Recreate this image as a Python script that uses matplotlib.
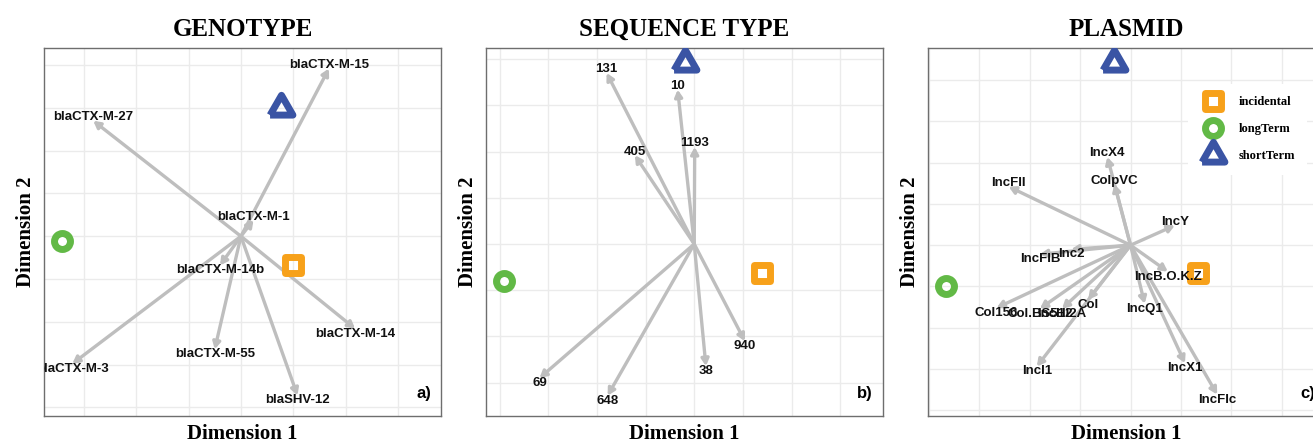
import matplotlib
matplotlib.use('Agg')
import matplotlib.pyplot as plt
from matplotlib.lines import Line2D
from matplotlib.markers import MarkerStyle
import numpy as np

# genotype arrows (biplot loadings)
geno_names = ['blaCTX-M-15', 'blaCTX-M-27', 'blaCTX-M-1', 'blaCTX-M-14b',
              'blaCTX-M-3', 'blaCTX-M-55', 'blaSHV-12', 'blaCTX-M-14']
geno_x = [0.84, -1.41, 0.12, -0.20, -1.61, -0.25, 0.54, 1.09]
geno_y = [1.96, 1.35, 0.19, -0.34, -1.49, -1.32, -1.86, -1.08]

# sequence type arrows
st_names = ['131', '10', '1193', '405', '69', '648', '38', '940']
st_x = [-0.90, -0.17, 0.005, -0.61, -1.59, -0.89, 0.12, 0.52]
st_y = [1.85, 1.67, 1.05, 0.96, -1.45, -1.64, -1.32, -1.05]

# plasmid arrows
pl_names = ['IncX4', 'ColpVC', 'IncFII', 'IncY', 'Inc2', 'IncFIB', 'IncB.O.K.Z',
            'Col156', 'Col.BS512', 'IncHI2A', 'Col', 'IncQ1', 'IncI1', 'IncX1', 'IncFIc']
pl_x = [-0.23, -0.16, -1.21, 0.44, -0.59, -0.90, 0.37,
        -1.33, -0.90, -0.68, -0.42, 0.14, -0.93, 0.54, 0.86]
pl_y = [1.07, 0.74, 0.71, 0.24, -0.05, -0.11, -0.32,
        -0.76, -0.77, -0.77, -0.66, -0.71, -1.47, -1.43, -1.81]

# group positions: incidental, longTerm, shortTerm
groups = ['incidental', 'longTerm', 'shortTerm']
geno_gx = [0.50, -1.71, 0.38]
geno_gy = [-0.33, -0.06, 1.50]
st_gx = [0.70, -1.96, -0.10]
st_gy = [-0.31, -0.40, 1.96]
pl_gx = [0.67, -1.83, -0.16]
pl_gy = [-0.34, -0.49, 2.21]

grp_colors = ['#F7A11A', '#62B946', '#3A54A4']
# equilateral triangle like ggplot's shape 2
tri = [(-1, -0.577), (1, -0.577), (0, 1.155), (-1, -0.577)]
grp_markers = ['s', 'o', tri]
grp_sizes = [11.5, 11.5, 19]

SERIF = 'Liberation Serif'
SANS = 'Liberation Sans'
ARROW_COL = '#BEBEBE'


def grp_marker(i):
    return MarkerStyle(grp_markers[i], joinstyle='round')


def draw_panel(ax, title, names, xs, ys, gx, gy, xlim, ylim, tag):
    ax.set_xlim(xlim)
    ax.set_ylim(ylim)
    # grid every 0.5
    ax.set_xticks(np.arange(np.ceil(xlim[0] * 2) / 2, xlim[1], 0.5))
    ax.set_yticks(np.arange(np.ceil(ylim[0] * 2) / 2, ylim[1], 0.5))
    ax.grid(True, color='#EBEBEB', lw=1.0)
    ax.set_axisbelow(True)
    ax.tick_params(length=0, labelbottom=False, labelleft=False)
    for sp in ax.spines.values():
        sp.set_color('#6E6E6E')
        sp.set_linewidth(1.0)

    # arrows from the origin
    for x, y in zip(xs, ys):
        ax.annotate('', xy=(x, y), xytext=(0, 0),
                    arrowprops=dict(arrowstyle='-|>,head_length=0.4,head_width=0.22',
                                    color=ARROW_COL, lw=2.4, shrinkA=0, shrinkB=0),
                    zorder=2)

    # group markers
    for i in range(len(groups)):
        ax.plot(gx[i], gy[i], ls='none', marker=grp_marker(i),
                ms=grp_sizes[i], mew=5, mec=grp_colors[i], mfc='none', zorder=3)

    # labels at arrow tips (clipped by the panel like in the original)
    for n, x, y in zip(names, xs, ys):
        off = 2.5 if y > 0 else -3.6
        t = ax.annotate(n, xy=(x, y), xytext=(0, off), textcoords='offset points',
                        ha='center', va='center', fontsize=9.5, fontweight='bold',
                        family=SANS, color='#111111', zorder=4, annotation_clip=False)
        t.set_clip_on(True)
        t.set_clip_box(ax.bbox)

    ax.text(1 - 10 / 397, 0.06, tag, transform=ax.transAxes, ha='right', va='center',
            fontsize=12, fontweight='bold', family=SANS)
    ax.set_title(title, fontsize=18, fontweight='bold', family=SERIF, pad=9)
    ax.set_xlabel('Dimension 1', fontsize=15, fontweight='bold', family=SERIF, labelpad=6)
    ax.set_ylabel('Dimension 2', fontsize=15, fontweight='bold', family=SERIF, labelpad=6)


fig = plt.figure(figsize=(13.13, 4.43), dpi=100)
bot = 27 / 443
hgt = 368 / 443
wid = 397 / 1313
ax1 = fig.add_axes([44 / 1313, bot, wid, hgt])
ax2 = fig.add_axes([486 / 1313, bot, wid, hgt])
ax3 = fig.add_axes([928 / 1313, bot, wid, hgt])

draw_panel(ax1, 'GENOTYPE', geno_names, geno_x, geno_y, geno_gx, geno_gy,
           (-1.88, 1.91), (-2.10, 2.20), 'a)')
draw_panel(ax2, 'SEQUENCE TYPE', st_names, st_x, st_y, st_gx, st_gy,
           (-2.14, 1.94), (-1.86, 2.12), 'b)')
draw_panel(ax3, 'PLASMID', pl_names, pl_x, pl_y, pl_gx, pl_gy,
           (-2.01, 1.93), (-2.07, 2.39), 'c)')

# legend in the plasmid panel
handles = []
for i in range(len(groups)):
    handles.append(Line2D([], [], ls='none', marker=grp_marker(i),
                          ms=grp_sizes[i], mew=5, mec=grp_colors[i], mfc='none'))
leg = ax3.legend(handles, groups, loc='upper left', bbox_to_anchor=(0.64, 0.92),
                 frameon=True, facecolor='white', edgecolor='none', framealpha=1,
                 fancybox=False, labelspacing=1.2, handletextpad=1.0, borderpad=1.0,
                 prop={'family': SERIF, 'weight': 'bold', 'size': 9})
leg.set_zorder(5)

fig.savefig('out.png', dpi=100)
